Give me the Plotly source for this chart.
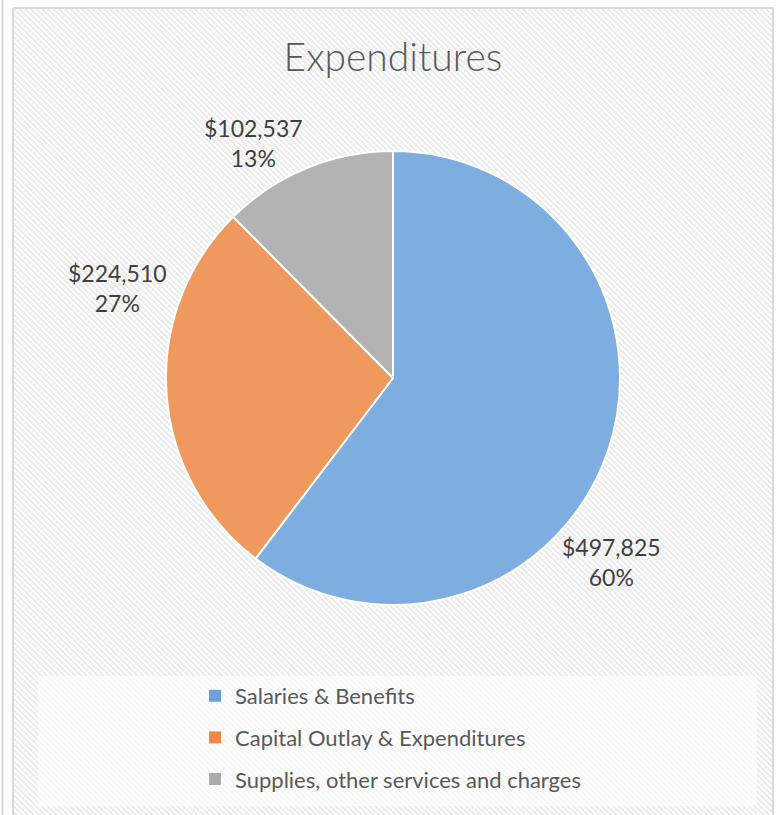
import plotly.graph_objects as go

# ---- data ----
categories = ["Salaries & Benefits", "Capital Outlay & Expenditures", "Supplies, other services and charges"]
values = [497825, 224510, 102537]
pct_labels = ["60%", "27%", "13%"]
slice_colors = ["#7DAEDF", "#F0995E", "#B3B3B3"]
legend_colors = ["#6CA3DA", "#EE8A48", "#ABABAB"]

W, H = 780, 815
def px(x):  # paper x from pixel
    return x / W
def py(y):  # paper y from pixel (top-down)
    return 1 - y / H

fig = go.Figure()

# hatched background panel
fig.add_trace(go.Scatter(
    x=[0, 1, 1, 0, 0], y=[0, 0, 1, 1, 0], mode="lines", fill="toself",
    line=dict(width=0, color="rgba(0,0,0,0)"),
    fillcolor="white",
    fillpattern=dict(shape="\\", bgcolor="white", fgcolor="#D4D4D4", size=4, solidity=0.5),
    hoverinfo="skip", showlegend=False, xaxis="x", yaxis="y"))

# pie
cx, cy, r = 393, 378, 227
fig.add_trace(go.Pie(
    labels=categories, values=values, sort=False, direction="clockwise", rotation=0,
    marker=dict(colors=slice_colors, line=dict(color="white", width=2)),
    textinfo="none", showlegend=False,
    domain=dict(x=[px(cx - r), px(cx + r)], y=[py(cy + r), py(cy - r)]),
))

# legend entries
for i, (c, col) in enumerate(zip(categories, legend_colors)):
    fig.add_trace(go.Scatter(
        x=[None], y=[None], mode="markers", name=c, legendgroup=f"g{i}",
        marker=dict(symbol="square", size=9, color=col), xaxis="x", yaxis="y"))

# data labels
label_pos = [(611, 562), (118, 288), (253, 143)]
for v, p, (lx, ly) in zip(values, pct_labels, label_pos):
    fig.add_annotation(x=px(lx), y=py(ly), xref="paper", yref="paper",
                       text=f"${v:,}<br>{p}", showarrow=False,
                       font=dict(family="Lato", size=23, color="#404040"),
                       align="center", xanchor="center", yanchor="middle")

fig.update_layout(
    width=W, height=H, margin=dict(l=0, r=0, t=0, b=0),
    paper_bgcolor="white", plot_bgcolor="rgba(0,0,0,0)",
    title=dict(text="Expenditures", x=px(393), xanchor="center", y=py(57), yanchor="middle",
               font=dict(family="Lato", size=39, color="#595959", weight=300)),
    xaxis=dict(domain=[px(13), px(773)], range=[0, 1], visible=False, fixedrange=True),
    yaxis=dict(domain=[0, py(8)], range=[0, 1], visible=False, fixedrange=True),
    legend=dict(x=px(195), y=py(675), xanchor="left", yanchor="top",
                bgcolor="rgba(0,0,0,0)", tracegroupgap=10,
                font=dict(family="Lato", size=22, color="#595959"),
                itemsizing="constant"),
    showlegend=True,
    shapes=[
        dict(type="rect", xref="paper", yref="paper", x0=px(38), x1=px(757), y0=py(806), y1=py(676),
             fillcolor="rgba(255,255,255,0.6)", line=dict(width=0), layer="above"),
        dict(type="line", xref="paper", yref="paper", x0=px(13), x1=px(13), y0=0, y1=py(8),
             line=dict(color="#D9D9D9", width=2)),
        dict(type="line", xref="paper", yref="paper", x0=px(773), x1=px(773), y0=0, y1=py(8),
             line=dict(color="#D9D9D9", width=2)),
        dict(type="line", xref="paper", yref="paper", x0=px(13), x1=px(773), y0=py(8), y1=py(8),
             line=dict(color="#D9D9D9", width=2)),
        dict(type="line", xref="paper", yref="paper", x0=px(2.5), x1=px(2.5), y0=0, y1=1,
             line=dict(color="#D9D9D9", width=2)),
    ],
)

fig.write_html("out.html", config={"displayModeBar": False},
               post_script="document.body.style.margin='0';document.body.style.overflow='hidden';")
